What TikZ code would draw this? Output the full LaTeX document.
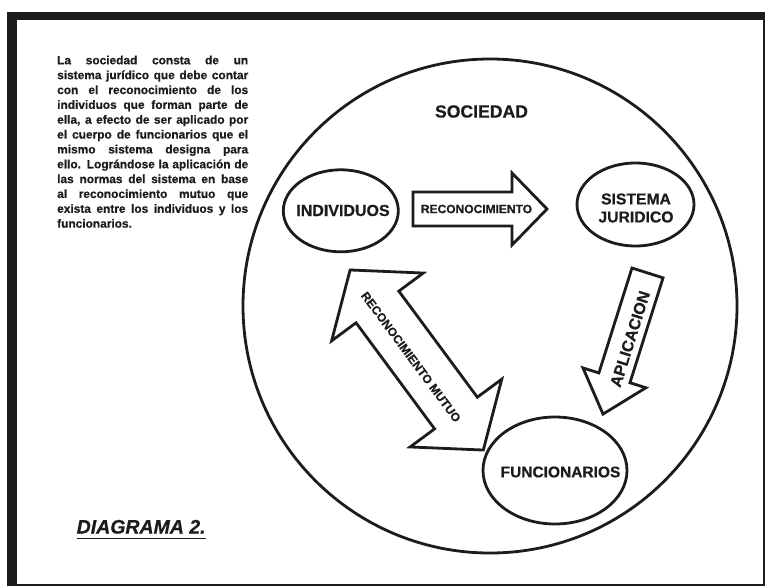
\documentclass[tikz,border=0pt]{standalone}
\usepackage{fontspec}
\setmainfont{Liberation Sans}[BoldFeatures={FakeBold=0.6}, BoldItalicFeatures={FakeBold=0.6}]
\usetikzlibrary{shapes.geometric}
\definecolor{ink}{HTML}{1C1C1C}
\tikzset{
  stroke/.style={draw=ink, line width=2.8pt, line join=miter, miter limit=10},
  oval/.style={ellipse, stroke, inner sep=0pt, outer sep=0pt},
  caption/.style={text=ink, inner sep=0pt, font=\bfseries\fontsize{16}{18}\selectfont},
  arrowtext/.style={text=ink, inner sep=0pt, font=\bfseries\fontsize{12}{14}\selectfont},
  para/.style={text=ink, inner sep=0pt, anchor=base west, font=\bfseries\fontsize{11.9}{14.8}\selectfont},
}
\begin{document}
\begin{tikzpicture}[x=1pt, y=-1pt]
  % page and frame
  \fill[white] (0,0) rectangle (765,586);
  \useasboundingbox (0,0) rectangle (765,586);
  \fill[ink] (7,12) rectangle (765,586);
  \fill[white] (16.5,20) rectangle (762.5,583.5);

  % explanatory paragraph
  \foreach \txt [count=\i from 0] in {
    {La sociedad consta de un},
    {sistema jurídico que debe contar},
    {con el reconocimiento de los},
    {individuos que forman parte de},
    {ella, a efecto de ser aplicado por},
    {el cuerpo de funcionarios que el},
    {mismo sistema designa para},
    {ello. Lográndose la aplicación de},
    {las normas del sistema en base},
    {al reconocimiento mutuo que},
    {exista entre los individuos y los}}
    \node[para] (p\i) at (57,{64.3+14.85*\i}) {\makebox[191pt][s]{\txt}};
  \node[para] (p11) at (57,{64.3+14.85*11}) {funcionarios.};

  % society circle
  \node[oval, minimum width=494pt, minimum height=494pt] (soc) at (490,306) {};
  \node[caption, font=\bfseries\fontsize{17.6}{20}\selectfont] (soclabel) at (481.5,111.5) {SOCIEDAD};

  % members
  \node[oval, minimum width=115pt, minimum height=82pt] (indE) at (340.8,210.8) {};
  \node[caption] (ind) at (343,210.5) {INDIVIDUOS};

  \node[oval, minimum width=117pt, minimum height=83pt] (sisE) at (635.5,204.5) {};
  \node[caption, align=center, font=\bfseries\fontsize{15.7}{18}\selectfont] (sis) at (636,208) {SISTEMA\\JURIDICO};

  \node[oval, minimum width=144pt, minimum height=107pt] (funE) at (555,470.5) {};
  \node[caption, font=\bfseries\fontsize{15.5}{18}\selectfont] (fun) at (560.5,472) {FUNCIONARIOS};

  % block arrow: individuos -> sistema
  \draw[stroke] (413,192) -- (512,192) -- (512,173) -- (547,209) -- (512,245)
    -- (512,226) -- (413,226) -- cycle;
  \node[arrowtext] (rec) at (476.5,209) {RECONOCIMIENTO};

  % block arrow: sistema -> funcionarios
  \begin{scope}[shift={(625.25,343.5)}, rotate=-107.5]
    \draw[stroke] (-74,-16.3) -- (36,-16.3) -- (36,-33) -- (74,0) -- (36,33)
      -- (36,16.3) -- (-74,16.3) -- cycle;
  \end{scope}
  \node[caption, rotate=72.5] (apl) at (630,339) {APLICACION};

  % double block arrow: individuos <-> funcionarios
  \begin{scope}[shift={(416.7,360)}, rotate=-53.5]
    \draw[stroke] (-112,0) -- (-66,-57) -- (-66,-26.6) -- (66,-26.6) -- (66,-57)
      -- (112,0) -- (66,57) -- (66,26.6) -- (-66,26.6) -- (-66,57) -- cycle;
  \end{scope}
  \node[arrowtext, rotate=-53.5] (mut) at (411,357) {RECONOCIMIENTO MUTUO};

  % title
  \node[text=ink, inner sep=0pt, anchor=base west, font=\bfseries\itshape\fontsize{19.5}{22}\selectfont] (dg) at (76.5,533.5) {DIAGRAMA 2.};
  \draw[ink, line width=1.8pt] ([yshift=-5pt]dg.base west) -- ([yshift=-5pt]dg.base east);
\end{tikzpicture}
\end{document}
